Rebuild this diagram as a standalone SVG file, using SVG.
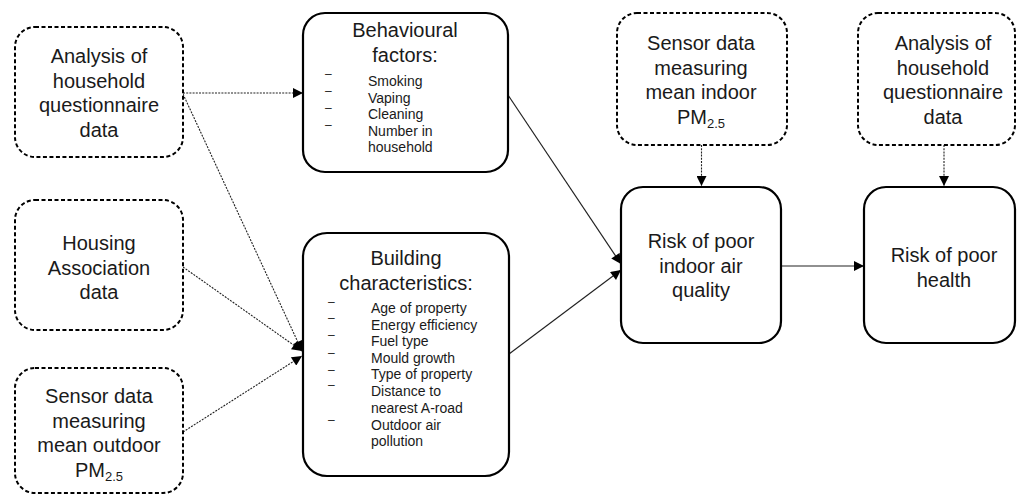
<svg xmlns="http://www.w3.org/2000/svg" width="1017" height="495" viewBox="0 0 1017 495">
<defs>
<marker id="ah" viewBox="0 0 10 10" refX="10" refY="5" markerWidth="11" markerHeight="10" markerUnits="userSpaceOnUse" orient="auto"><path d="M0,0 L10,5 L0,10 z" fill="#000"/></marker>
<style>
.dbox{fill:#fff;stroke:#000;stroke-width:2;stroke-dasharray:4 2.5}
.sbox{fill:#fff;stroke:#000;stroke-width:2.2}
.t{font-family:"Liberation Sans",Arial,sans-serif;font-size:20px;fill:#1a1a1a;text-anchor:middle}
.s{font-family:"Liberation Sans",Arial,sans-serif;font-size:14px;fill:#1a1a1a}
.d{font-family:"Liberation Sans",Arial,sans-serif;font-size:12px;fill:#1a1a1a}
.sub{font-size:13px}
.dot{fill:none;stroke:#222;stroke-width:1.1;stroke-dasharray:2 1.2}
.sol{fill:none;stroke:#222;stroke-width:1.2}
</style>
</defs>
<rect width="1017" height="495" fill="#fff"/>
<g id="connectors">
<line class="dot" x1="183" y1="93" x2="303" y2="93" marker-end="url(#ah)"/>
<line class="dot" x1="183" y1="94" x2="302" y2="351" marker-end="url(#ah)"/>
<line class="dot" x1="183" y1="267" x2="302" y2="351" marker-end="url(#ah)"/>
<line class="dot" x1="183" y1="432" x2="302" y2="356" marker-end="url(#ah)"/>
<line class="sol" x1="508" y1="95" x2="621" y2="264" marker-end="url(#ah)"/>
<line class="sol" x1="509" y1="354" x2="621" y2="270" marker-end="url(#ah)"/>
<line class="dot" x1="701.5" y1="145" x2="701.5" y2="186" marker-end="url(#ah)"/>
<line class="dot" x1="944" y1="145" x2="944" y2="186" marker-end="url(#ah)"/>
<line class="sol" x1="781" y1="266" x2="864" y2="266" marker-end="url(#ah)"/>
</g>
<g id="analysis-left">
<rect class="dbox" x="15" y="27" width="168" height="130" rx="20"/>
<text class="t" x="99" y="63">Analysis of</text>
<text class="t" x="99" y="87.5">household</text>
<text class="t" x="99" y="112">questionnaire</text>
<text class="t" x="99" y="136.5">data</text>
</g>
<g id="housing">
<rect class="dbox" x="15" y="200" width="168" height="130" rx="20"/>
<text class="t" x="99" y="250">Housing</text>
<text class="t" x="99" y="274.5">Association</text>
<text class="t" x="99" y="299">data</text>
</g>
<g id="sensor-outdoor">
<rect class="dbox" x="15" y="368" width="168" height="125" rx="20"/>
<text class="t" x="99" y="403">Sensor data</text>
<text class="t" x="99" y="427.5">measuring</text>
<text class="t" x="99" y="452">mean outdoor</text>
<text class="t" x="99" y="476.5">PM<tspan class="sub" dy="4">2.5</tspan></text>
</g>
<g id="behavioural">
<rect class="sbox" x="303" y="13" width="205" height="159" rx="22"/>
<text class="t" x="405" y="37">Behavioural</text>
<text class="t" x="405" y="62">factors:</text>
<text class="d" x="325" y="78">–</text>
<text class="d" x="325" y="95">–</text>
<text class="d" x="325" y="112">–</text>
<text class="d" x="325" y="129">–</text>
<text class="s" x="368" y="86">Smoking</text>
<text class="s" x="368" y="102.5">Vaping</text>
<text class="s" x="368" y="119">Cleaning</text>
<text class="s" x="368" y="135.5">Number in</text>
<text class="s" x="368" y="152">household</text>
</g>
<g id="building">
<rect class="sbox" x="303" y="233" width="206" height="243" rx="24"/>
<text class="t" x="406" y="265">Building</text>
<text class="t" x="406" y="290">characteristics:</text>
<text class="d" x="328" y="305.5">–</text>
<text class="d" x="328" y="322">–</text>
<text class="d" x="328" y="339">–</text>
<text class="d" x="328" y="356.5">–</text>
<text class="d" x="328" y="373.5">–</text>
<text class="d" x="328" y="389">–</text>
<text class="d" x="328" y="424">–</text>
<text class="s" x="371" y="313">Age of property</text>
<text class="s" x="371" y="329.5">Energy efficiency</text>
<text class="s" x="371" y="346">Fuel type</text>
<text class="s" x="371" y="362.5">Mould growth</text>
<text class="s" x="371" y="379">Type of property</text>
<text class="s" x="371" y="396">Distance to</text>
<text class="s" x="371" y="413">nearest A-road</text>
<text class="s" x="371" y="429.5">Outdoor air</text>
<text class="s" x="371" y="446">pollution</text>
</g>
<g id="sensor-indoor">
<rect class="dbox" x="617" y="13" width="170" height="132" rx="20"/>
<text class="t" x="701" y="50">Sensor data</text>
<text class="t" x="701" y="74.5">measuring</text>
<text class="t" x="701" y="99">mean indoor</text>
<text class="t" x="701" y="123.5">PM<tspan class="sub" dy="4">2.5</tspan></text>
</g>
<g id="analysis-right">
<rect class="dbox" x="858" y="13" width="157" height="132" rx="20"/>
<text class="t" x="943" y="50">Analysis of</text>
<text class="t" x="943" y="74.5">household</text>
<text class="t" x="943" y="99">questionnaire</text>
<text class="t" x="943" y="123.5">data</text>
</g>
<g id="risk-iaq">
<rect class="sbox" x="621" y="187" width="160" height="156" rx="22"/>
<text class="t" x="701" y="248">Risk of poor</text>
<text class="t" x="701" y="272.5">indoor air</text>
<text class="t" x="701" y="297">quality</text>
</g>
<g id="risk-health">
<rect class="sbox" x="864" y="187" width="151" height="156" rx="22"/>
<text class="t" x="944" y="262">Risk of poor</text>
<text class="t" x="944" y="286.5">health</text>
</g>
</svg>
